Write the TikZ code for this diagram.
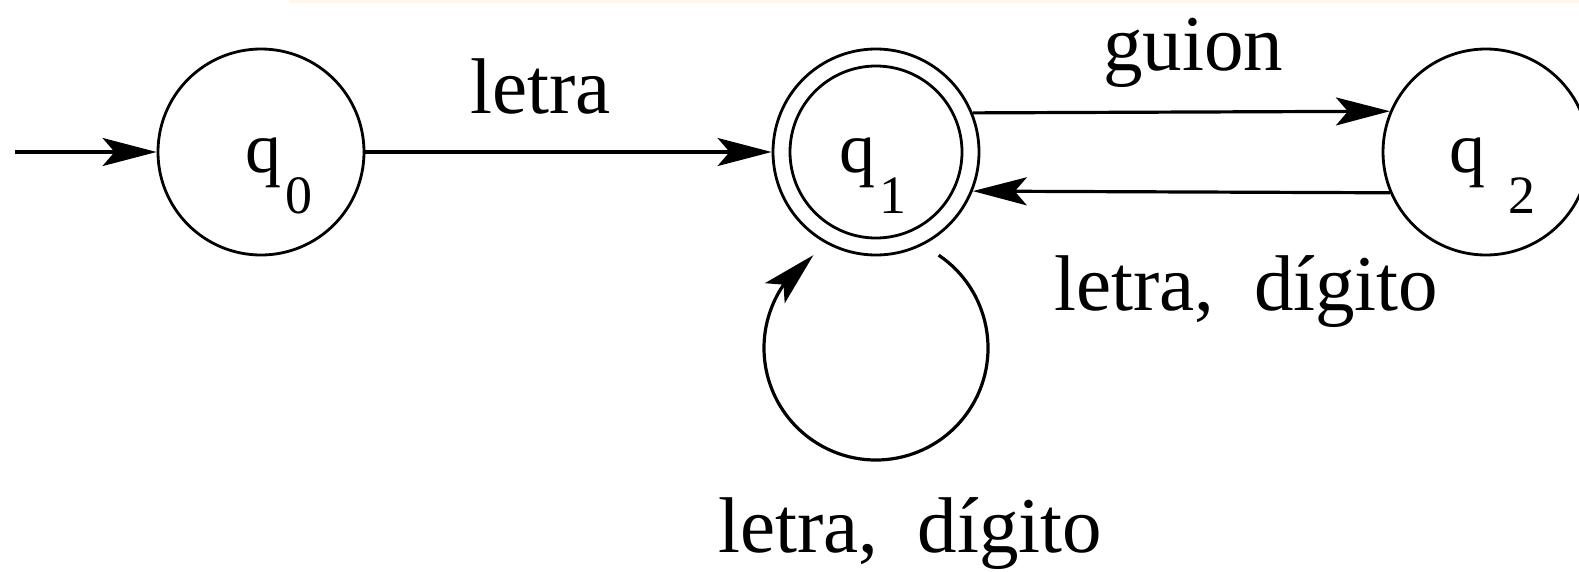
\documentclass[tikz,border=0pt]{standalone}
\usepackage{fontspec}
\setmainfont{Liberation Serif}
\usetikzlibrary{arrows.meta,bending}
\definecolor{figY}{RGB}{254,248,236}

\begin{document}
\begin{tikzpicture}[x=1pt,y=1pt,>={Stealth[length=54pt,width=28pt,inset=12pt]},
  state/.style={circle,draw,line width=2.8pt,minimum size=206pt,inner sep=0pt},
  qlab/.style={anchor=base west,font=\fontsize{72}{80}\selectfont},
  lab/.style={anchor=base,font=\fontsize{79}{90}\selectfont},
  arr/.style={->,line width=3.2pt}]
\useasboundingbox (0,0) rectangle (1579,-571);
\fill[figY] (290,0) rectangle (1579,-3);
% states
\node[state] (q0) at (261,-152) {};
\node[state] (q1) at (876,-152) {};
\node[state] (q2) at (1486,-152) {};
\draw[line width=2.8pt] (q1.center) circle[radius=86pt];
\node[qlab] at ([xshift=-19pt,yshift=-20pt]q0.center) {q\kern4pt\raisebox{-41pt}{\fontsize{54}{60}\selectfont 0}};
\node[qlab] at ([xshift=-40pt,yshift=-20pt]q1.center) {q\kern4pt\raisebox{-41pt}{\fontsize{54}{60}\selectfont 1}};
\node[qlab] at ([xshift=-40pt,yshift=-20pt]q2.center) {q\kern23pt\raisebox{-41pt}{\fontsize{54}{60}\selectfont 2}};
% transitions
\coordinate (init) at (15,-152);
\draw[arr] (init) -- (q0);
\draw[arr] (q0) -- (q1) node[lab,pos=0.5,xshift=-28pt,yshift=39pt] {letra};
\draw[arr] (q1.22.85) -- (q2.157.15) node[lab,pos=0.5,xshift=12pt,yshift=42pt] {guion};
\draw[arr] (q2.-157.15) -- (q1.-22.85) node[lab,pos=0.5,xshift=65pt,yshift=-119pt] {letra,~ dígito};
\path (q1.center) ++(0,-196) coordinate (loopc);
\draw[arr] ([shift={(56:112)}]loopc) arc[start angle=56,end angle=-236,radius=112];
\node[lab] at ([shift={(34pt,-204pt)}]loopc) {letra,~ dígito};
\end{tikzpicture}
\end{document}
